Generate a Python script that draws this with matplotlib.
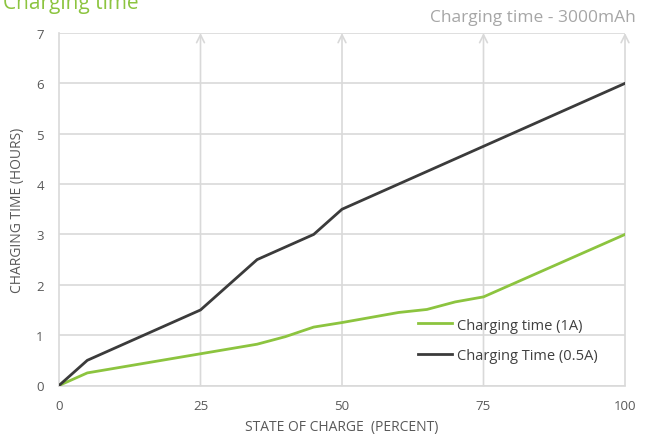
import matplotlib.pyplot as plt
import numpy as np

plt.rcParams['font.family'] = ['Open Sans', 'DejaVu Sans']

soc = [0, 5, 25, 35, 40, 45, 50, 60, 65, 70, 75, 100]
time_1a = [0, 0.25, 0.63, 0.82, 0.97, 1.16, 1.25, 1.45, 1.51, 1.66, 1.76, 3.0]
time_05a = [0, 0.5, 1.5, 2.5, 2.75, 3.0, 3.5, 4.0, 4.25, 4.5, 4.75, 6.0]
x_ticks = [0, 25, 50, 75, 100]
y_ticks = [0, 1, 2, 3, 4, 5, 6, 7]

green = '#8cc43f'
dark = '#3b3b3b'
grid_c = '#d9d9d9'
text_c = '#595959'

fig = plt.figure(figsize=(6.5, 4.39), dpi=100)
ax = fig.add_axes([59 / 650, 1 - 386.5 / 439, 566 / 650, 352.5 / 439])

ax.set_xlim(0, 100)
ax.set_ylim(0, 7)
ax.set_xticks(x_ticks)
ax.set_yticks(y_ticks)
ax.grid(axis='y', color=grid_c, lw=1.2)
for s in ax.spines.values():
    s.set_color(grid_c)
    s.set_linewidth(1.2)
ax.spines['right'].set_visible(False)
ax.spines['top'].set_visible(False)

# vertical grid lines with open arrowheads at the top
for xv in x_ticks[1:]:
    ax.annotate('', xy=(xv, 7), xytext=(xv, 0),
                arrowprops=dict(arrowstyle='->', color=grid_c, lw=1.2,
                                shrinkA=0, shrinkB=0, mutation_scale=14))

ax.plot(soc, time_1a, color=green, lw=2, label='Charging time (1A)', zorder=3)
ax.plot(soc, time_05a, color=dark, lw=2, label='Charging Time (0.5A)', zorder=3)

ax.tick_params(axis='x', length=0, colors=text_c, labelsize=9.5, pad=10)
ax.tick_params(axis='y', length=0, colors=text_c, labelsize=9.5, pad=11)
ax.set_xlabel('STATE OF CHARGE  (PERCENT)', color=text_c, fontsize=10, labelpad=5)
ax.set_ylabel('CHARGING TIME (HOURS)', color=text_c, fontsize=10, labelpad=8)

leg = ax.legend(loc='lower right', bbox_to_anchor=(0.975, 0.027), frameon=False,
                fontsize=10.5, handlelength=2.3, handletextpad=0.35, labelspacing=1.05)
for t in leg.get_texts():
    t.set_color('#404040')

fig.text(0.005, 1 - 9 / 439, 'Charging time', color=green, fontsize=15, va='baseline')
fig.text(636 / 650, 1 - 18 / 439, 'Charging time - 3000mAh', color='#a6a6a6',
         fontsize=12.5, ha='right', va='center')

fig.savefig('out.png', dpi=100)
